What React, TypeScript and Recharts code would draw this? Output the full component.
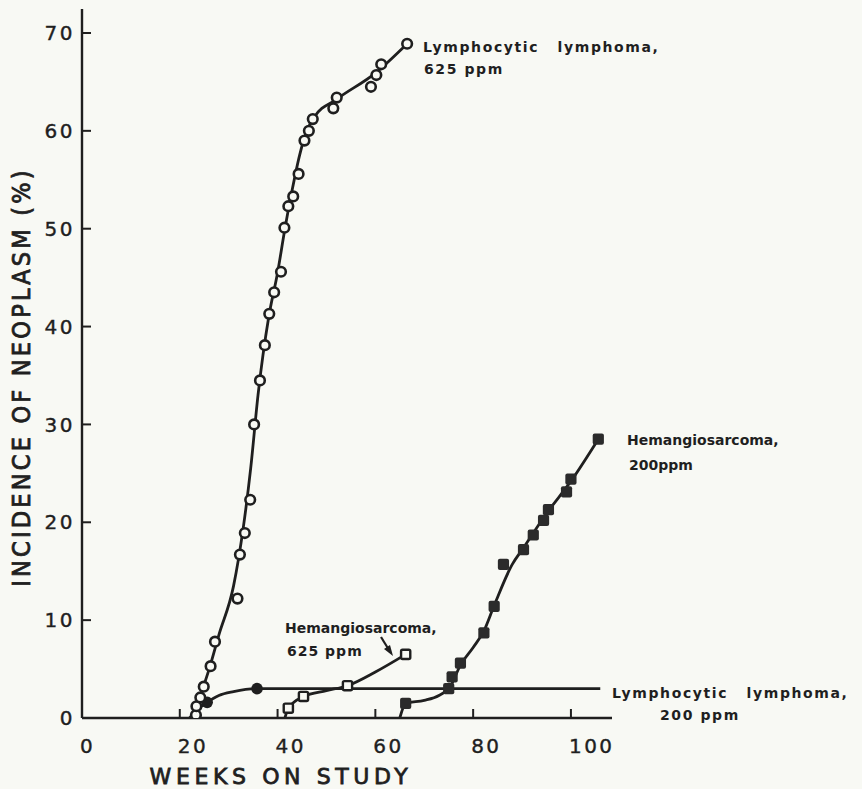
import React from 'react'
import { ComposedChart, Line, Scatter, XAxis, YAxis } from 'recharts'

const W = 862
const H = 789
const AXIS_X = 82
const AXIS_Y = 718
const INK = '#1f1f1f'
const PAPER = '#f8f9f4'
const FONT = '"DejaVu Sans", Verdana, sans-serif'
const FONT_COND = '"DejaVu Sans Condensed", "DejaVu Sans", sans-serif'

const xTicks = [0, 20, 40, 60, 80, 100]
const yTicks = [0, 10, 20, 30, 40, 50, 60, 70]

// Lymphocytic lymphoma, 625 ppm - observed points (open circles)
const lymph625Weeks = [23.3, 23.4, 24.2, 24.9, 26.3, 27.2, 31.8, 32.3, 33.3, 34.4, 35.2, 36.4, 37.4, 38.3, 39.3, 40.7, 41.4, 42.2, 43.2, 44.3, 45.5, 46.4, 47.2, 51.4, 52.1, 59.1, 60.2, 61.2, 66.5]
const lymph625Pct = [0.3, 1.2, 2.1, 3.2, 5.3, 7.8, 12.2, 16.7, 18.9, 22.3, 30.0, 34.5, 38.1, 41.3, 43.5, 45.6, 50.1, 52.3, 53.3, 55.6, 59.0, 60.0, 61.2, 62.3, 63.4, 64.5, 65.7, 66.8, 68.9]
// hand-fitted curve through them
const lymph625FitWeeks = [22.6, 24.0, 26.0, 28.0, 31.0, 33.0, 34.5, 36.0, 38.2, 40.0, 41.5, 43.0, 44.5, 46.0, 47.5, 52.0, 60.0, 66.5]
const lymph625FitPct = [0, 2.0, 5.0, 8.5, 13.5, 19.5, 25.5, 33.0, 41.0, 45.5, 50.0, 54.0, 57.5, 60.0, 61.4, 63.2, 65.9, 68.9]

// Lymphocytic lymphoma, 200 ppm (filled circles)
const lymph200Weeks = [25.6, 35.8]
const lymph200Pct = [1.6, 3.0]
const lymph200FitWeeks = [22.0, 23.5, 25.6, 28.0, 31.0, 35.8, 106.0]
const lymph200FitPct = [0, 0.8, 1.6, 2.3, 2.7, 3.0, 3.0]

// Hemangiosarcoma, 625 ppm (open squares)
const hem625Weeks = [42.2, 45.3, 54.3, 66.2]
const hem625Pct = [1.0, 2.2, 3.3, 6.5]
const hem625FitWeeks = [41.5, 42.2, 45.3, 50.0, 54.3, 60.0, 66.2]
const hem625FitPct = [0, 1.0, 2.2, 2.8, 3.3, 4.7, 6.5]

// Hemangiosarcoma, 200 ppm (filled squares)
const hem200Weeks = [66.2, 75.0, 75.7, 77.4, 82.2, 84.3, 86.2, 90.3, 92.3, 94.4, 95.4, 99.1, 100.0, 105.6]
const hem200Pct = [1.5, 3.0, 4.2, 5.6, 8.7, 11.4, 15.7, 17.2, 18.7, 20.2, 21.3, 23.1, 24.4, 28.5]
const hem200FitWeeks = [65.0, 66.2, 70.0, 73.0, 75.3, 77.4, 80.0, 82.2, 84.3, 88.0, 90.3, 95.0, 100.0, 105.6]
const hem200FitPct = [0, 1.5, 1.8, 2.3, 3.2, 5.4, 7.2, 8.9, 11.5, 15.7, 17.4, 20.9, 24.2, 28.5]

const zip = (xs: number[], ys: number[]) => xs.map((x, i) => ({ x, y: ys[i] }))

const OpenCircle = (p: any) => (
  <circle cx={p.cx} cy={p.cy} r={4.8} fill={PAPER} stroke={INK} strokeWidth={2.6} />
)
const FilledCircle = (p: any) => <circle cx={p.cx} cy={p.cy} r={5.8} fill={INK} />
const OpenSquare = (p: any) => (
  <rect x={p.cx - 4.6} y={p.cy - 4.6} width={9.2} height={9.2} rx={1.5} fill={PAPER} stroke={INK} strokeWidth={2.4} />
)
const FilledSquare = (p: any) => (
  <rect x={p.cx - 5.6} y={p.cy - 5.6} width={11.2} height={11.2} rx={2} fill="#2b2b2b" />
)

const tickText = { fontFamily: FONT, fontSize: 20, fill: INK, letterSpacing: 2.5, stroke: INK, strokeWidth: 0.4 }

const YTick = ({ y, payload }: any) => (
  <g>
    {payload.value !== 0 && (
      <line x1={AXIS_X} x2={AXIS_X + 9} y1={y} y2={y} stroke={INK} strokeWidth={2} />
    )}
    <text x={AXIS_X - 7} y={y} dy="0.36em" textAnchor="end" style={tickText}>
      {payload.value}
    </text>
  </g>
)

const XTick = ({ x, payload }: any) => (
  <g>
    {payload.value !== 0 && (
      <line x1={x} x2={x} y1={AXIS_Y} y2={AXIS_Y - 9} stroke={INK} strokeWidth={2} />
    )}
    <text x={x - 2} y={AXIS_Y + 35} textAnchor="start" style={tickText}>
      {payload.value}
    </text>
  </g>
)

const labelStyle = {
  fontFamily: FONT,
  fontSize: 14,
  fontWeight: 700,
  fill: INK,
}
const lymphLabel = { ...labelStyle, letterSpacing: 1.6 }
const hemLabel = { ...labelStyle, letterSpacing: 0 }
const titleStyle = { fill: INK, stroke: INK, strokeWidth: 0.8 }

export default function App() {
  return (
    <div style={{ position: 'absolute', left: 0, top: 0, width: W, height: H, background: PAPER }}>
      <ComposedChart
        width={W}
        height={H}
        margin={{ top: 9, right: 250, left: 22, bottom: 21 }}
      >
        <XAxis
          type="number"
          dataKey="x"
          domain={[0, 108.4]}
          ticks={xTicks}
          height={50}
          axisLine={{ stroke: INK, strokeWidth: 2.4 }}
          tickLine={false}
          tick={<XTick />}
          allowDataOverflow
        />
        <YAxis
          type="number"
          dataKey="y"
          domain={[0, 72.45]}
          ticks={yTicks}
          width={60}
          axisLine={{ stroke: INK, strokeWidth: 2.4 }}
          tickLine={false}
          tick={<YTick />}
          allowDataOverflow
        />
        <Line data={zip(lymph625FitWeeks, lymph625FitPct)} dataKey="y" type="monotone" dot={false} stroke={INK} strokeWidth={2.8} isAnimationActive={false} />
        <Line data={zip(lymph200FitWeeks, lymph200FitPct)} dataKey="y" type="monotone" dot={false} stroke={INK} strokeWidth={2.8} isAnimationActive={false} />
        <Line data={zip(hem625FitWeeks, hem625FitPct)} dataKey="y" type="monotone" dot={false} stroke={INK} strokeWidth={2.8} isAnimationActive={false} />
        <Line data={zip(hem200FitWeeks, hem200FitPct)} dataKey="y" type="monotone" dot={false} stroke={INK} strokeWidth={2.8} isAnimationActive={false} />
        <Scatter data={zip(lymph200Weeks, lymph200Pct)} dataKey="y" shape={FilledCircle} isAnimationActive={false} />
        <Scatter data={zip(hem625Weeks, hem625Pct)} dataKey="y" shape={OpenSquare} isAnimationActive={false} />
        <Scatter data={zip(hem200Weeks, hem200Pct)} dataKey="y" shape={FilledSquare} isAnimationActive={false} />
        <Scatter data={zip(lymph625Weeks, lymph625Pct)} dataKey="y" shape={OpenCircle} isAnimationActive={false} />
      </ComposedChart>

      <svg width={W} height={H} style={{ position: 'absolute', left: 0, top: 0, pointerEvents: 'none' }}>
        <text x={21} y={377} textAnchor="middle" dy="0.36em" transform="rotate(-90 21 377)"
          style={{ ...titleStyle, fontFamily: FONT_COND, fontSize: 25, letterSpacing: 3.2 }}>
          INCIDENCE OF NEOPLASM (%)
        </text>
        <text x={281} y={784} textAnchor="middle"
          style={{ ...titleStyle, fontFamily: FONT, fontSize: 22, letterSpacing: 4.6 }}>
          WEEKS ON STUDY
        </text>

        <text x={423} y={52} style={{ ...lymphLabel, wordSpacing: 12 }}>Lymphocytic lymphoma,</text>
        <text x={424} y={74} style={lymphLabel}>625 ppm</text>

        <text x={627} y={445} style={hemLabel}>Hemangiosarcoma,</text>
        <text x={629} y={470} style={hemLabel}>200ppm</text>

        <text x={285} y={633} style={hemLabel}>Hemangiosarcoma,</text>
        <text x={287} y={656} style={{ ...hemLabel, letterSpacing: 1 }}>625 ppm</text>
        <line x1={381} y1={637} x2={389} y2={650} stroke={INK} strokeWidth={2.2} />
        <path d="M393 656 L384 649 L390 645 Z" fill={INK} />

        <text x={612} y={698} style={{ ...lymphLabel, wordSpacing: 12 }}>Lymphocytic lymphoma,</text>
        <text x={660} y={720} style={lymphLabel}>200 ppm</text>
      </svg>
    </div>
  )
}
